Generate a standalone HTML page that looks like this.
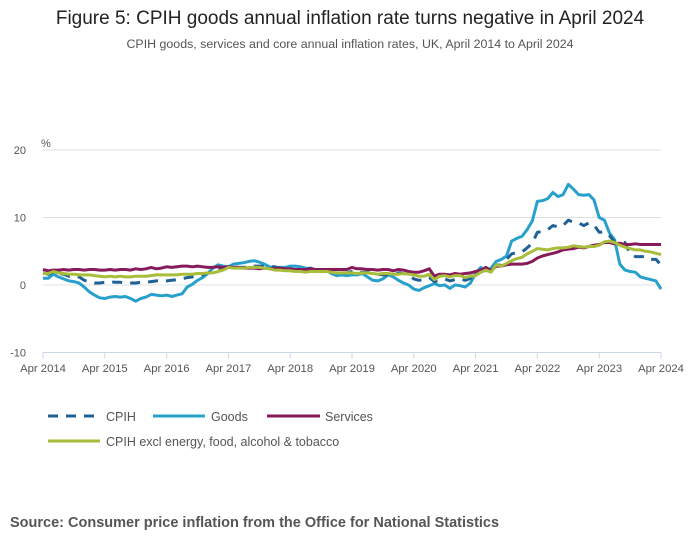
<!DOCTYPE html>
<html><head><meta charset="utf-8"><style>
body{margin:0;background:#fff;font-family:"Liberation Sans",sans-serif;}
svg text{font-family:"Liberation Sans",sans-serif;}
</style></head><body>
<svg id="c" width="700" height="549">
<text x="350" y="24" text-anchor="middle" font-size="19" fill="#222">Figure 5: CPIH goods annual inflation rate turns negative in April 2024</text>
<text x="350" y="48" text-anchor="middle" font-size="12.4" fill="#555">CPIH goods, services and core annual inflation rates, UK, April 2014 to April 2024</text>
<text x="41" y="147" font-size="11" fill="#555">%</text>
<g id="grid"></g><g id="xax"></g><g id="lines"></g>
<g>
<line x1="48" y1="416" x2="100" y2="416" stroke="#206095" stroke-width="3" stroke-dasharray="10,8"/>
<text x="106" y="421" font-size="12.5" fill="#555">CPIH</text>
<line x1="153" y1="416" x2="205" y2="416" stroke="#27a0cc" stroke-width="3"/>
<text x="211" y="421" font-size="12.5" fill="#555">Goods</text>
<line x1="267" y1="416" x2="320" y2="416" stroke="#871a5b" stroke-width="3"/>
<text x="325" y="421" font-size="12.5" fill="#555">Services</text>
<line x1="48" y1="441" x2="100" y2="441" stroke="#a8bd3a" stroke-width="3"/>
<text x="106" y="446" font-size="12.5" fill="#555">CPIH excl energy, food, alcohol &amp; tobacco</text>
</g>
<text x="10" y="527" font-size="14.5" font-weight="bold" fill="#555">Source: Consumer price inflation from the Office for National Statistics</text>
</svg>
<script>
const yTicks=[20,10,0,-10];
const xTickLabels=["Apr 2014","Apr 2015","Apr 2016","Apr 2017","Apr 2018","Apr 2019","Apr 2020","Apr 2021","Apr 2022","Apr 2023","Apr 2024"];
const cpih=[1.8,1.6,1.9,1.7,1.6,1.3,1.4,1.2,0.7,
0.5,0.3,0.3,0.4,0.5,0.4,0.4,0.3,0.3,0.3,0.4,0.4,
0.5,0.6,0.7,0.6,0.7,0.8,0.9,1.1,1.2,1.3,1.5,1.8,
2.0,2.3,2.3,2.6,2.7,2.6,2.6,2.7,2.8,2.8,2.8,2.7,
2.7,2.5,2.3,2.2,2.3,2.3,2.4,2.5,2.2,2.2,2.2,2.0,
1.8,1.8,1.8,2.0,1.9,1.9,1.9,1.6,1.6,1.5,1.5,1.4,
1.8,1.7,1.5,0.9,0.7,0.8,1.1,0.5,0.7,0.9,0.6,0.8,
0.9,0.7,1.0,1.6,2.1,2.4,2.1,3.0,2.9,3.8,4.6,4.8,
4.9,5.5,6.2,7.8,7.9,8.2,8.8,8.6,8.8,9.6,9.3,9.2,
8.8,9.2,8.9,7.8,7.9,7.3,6.4,6.3,6.3,4.6,4.2,4.2,
4.2,3.8,3.8,3.0];
const goods=[1.0,1.0,1.6,1.2,0.9,0.6,0.5,0.3,-0.3,
-1.0,-1.5,-1.9,-2.0,-1.8,-1.7,-1.8,-1.7,-2.0,-2.4,-2.0,-1.8,
-1.4,-1.5,-1.6,-1.5,-1.7,-1.5,-1.3,-0.3,0.1,0.7,1.1,1.7,
2.5,3.0,2.8,2.7,3.1,3.2,3.3,3.5,3.6,3.4,3.1,2.7,
2.5,2.6,2.6,2.8,2.8,2.7,2.5,2.4,2.3,2.3,2.2,1.7,
1.4,1.5,1.4,1.5,1.5,1.7,1.2,0.7,0.6,0.9,1.5,1.2,
0.7,0.3,0.0,-0.6,-0.8,-0.4,-0.1,0.2,-0.1,0.0,-0.5,0.0,
-0.1,-0.3,0.3,1.7,2.6,2.1,2.5,3.5,3.8,4.3,6.5,6.9,
7.2,8.2,9.5,12.4,12.5,12.8,13.7,13.1,13.4,14.9,14.2,13.4,
13.3,13.4,12.6,10.0,9.6,7.7,6.7,3.1,2.2,2.0,1.9,1.2,
1.0,0.8,0.6,-0.6];
const services=[2.3,2.1,2.2,2.2,2.3,2.2,2.3,2.3,2.2,
2.3,2.3,2.2,2.2,2.3,2.2,2.3,2.3,2.2,2.4,2.3,2.4,
2.6,2.4,2.5,2.7,2.6,2.7,2.8,2.8,2.7,2.8,2.7,2.6,
2.6,2.7,2.6,2.7,2.6,2.6,2.5,2.5,2.5,2.4,2.5,2.4,
2.4,2.5,2.4,2.4,2.3,2.3,2.3,2.4,2.3,2.3,2.3,2.3,
2.3,2.3,2.3,2.6,2.4,2.4,2.3,2.3,2.2,2.3,2.3,2.1,
2.3,2.2,2.0,1.9,1.9,2.1,2.4,1.3,1.6,1.6,1.5,1.7,
1.6,1.7,1.8,2.0,2.2,2.6,2.1,2.8,2.8,3.0,3.1,3.1,
3.1,3.2,3.5,4.0,4.3,4.5,4.7,4.9,5.2,5.3,5.4,5.6,
5.5,5.7,5.9,6.0,6.3,6.3,6.1,6.2,6.0,6.0,6.1,6.0,
6.0,6.0,6.0,6.0];
const core=[1.7,1.7,2.0,1.8,1.7,1.6,1.6,1.5,1.5,
1.5,1.4,1.3,1.2,1.3,1.2,1.3,1.2,1.2,1.3,1.3,1.3,
1.4,1.5,1.5,1.5,1.5,1.5,1.6,1.6,1.6,1.7,1.7,1.8,
1.8,2.0,2.2,2.6,2.5,2.5,2.5,2.6,2.6,2.6,2.5,2.4,
2.2,2.2,2.1,2.1,2.0,2.0,1.9,2.0,2.0,2.0,2.0,1.9,
1.8,1.8,1.8,1.8,1.7,1.8,1.8,1.7,1.6,1.7,1.7,1.6,
1.6,1.7,1.6,1.5,1.3,1.3,1.6,0.8,1.3,1.4,1.2,1.4,
1.4,1.1,1.3,1.4,1.9,2.2,1.9,3.0,2.8,3.2,3.6,3.9,
4.1,4.6,5.0,5.4,5.3,5.2,5.4,5.5,5.5,5.6,5.8,5.7,
5.6,5.7,5.7,5.9,6.4,6.5,6.3,5.9,5.6,5.4,5.2,5.2,
5.0,4.9,4.7,4.5];
const NS="http://www.w3.org/2000/svg";
const X0=43,X1=661,Y0=285,PU=6.75,N=120;
const xs=i=>X0+(X1-X0)*i/N;
const ys=v=>Y0-v*PU;
function mk(t,a,p){const e=document.createElementNS(NS,t);for(const k in a)e.setAttribute(k,a[k]);p.appendChild(e);return e;}
const grid=document.getElementById('grid');
yTicks.forEach(v=>{
  if(v!==-10){const l=mk('line',{x1:X0,x2:X1,y1:ys(v),y2:ys(v),stroke:'#e0e0e0','stroke-width':1},grid);
  
  }
  const t=mk('text',{x:26,y:ys(v)+4,'text-anchor':'end','font-size':11,fill:'#555'},grid);
  t.textContent=v;
  
  
});
const xax=document.getElementById('xax');
const ax=mk('line',{x1:X0,x2:X1,y1:ys(-10),y2:ys(-10),stroke:'#ccd6eb','stroke-width':1},xax);


xTickLabels.forEach((s,k)=>{
  const x=xs(k*12);
  const tk=mk('line',{x1:x,x2:x,y1:ys(-10),y2:ys(-10)+6,stroke:'#ccd6eb'},xax);
  
  
  const t=mk('text',{x:x,y:372,'text-anchor':'middle','font-size':11.3,fill:'#555'},xax);
  t.textContent=s;
  
  
});
const lines=document.getElementById('lines');
[[goods,'#27a0cc','',"goods-line"],[cpih,'#206095','10,8',"cpih-line"],[services,'#871a5b','',"services-line"],[core,'#a8bd3a','',"core-line"]].forEach(([d,c,da,n])=>{
  const p=mk('path',{d:d.map((v,i)=>(i?'L':'M')+xs(i).toFixed(1)+','+ys(v).toFixed(1)).join(''),fill:'none',stroke:c,'stroke-width':3,'stroke-linejoin':'round'},lines);
  if(da)p.setAttribute('stroke-dasharray',da);
  
  
});
</script>
</body></html>
